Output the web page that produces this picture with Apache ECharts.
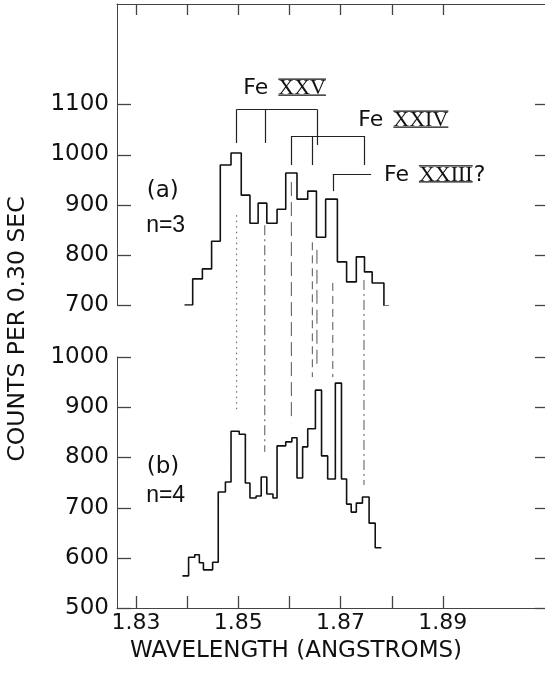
<!DOCTYPE html>
<html>
<head>
<meta charset="utf-8">
<script src="https://cdn.jsdelivr.net/npm/echarts@6/dist/echarts.min.js"></script>
<style>
  html, body { margin: 0; padding: 0; background: #fff; }
  #chart { width: 545px; height: 676px; }
</style>
</head>
<body>
<div id="chart"></div>
<script>
// (a) n=3 spectrum: bin edges in angstroms and counts per bin
const edgesA = [1.8395, 1.8411, 1.8430, 1.8448, 1.8465, 1.8486, 1.8506, 1.8523, 1.8539, 1.8556, 1.8576, 1.8593,
                1.8615, 1.8636, 1.8653, 1.8671, 1.8694, 1.8712, 1.8731, 1.8747, 1.8762, 1.8785, 1.8795];
const countsA = [700, 752, 772, 827, 979, 1003, 919, 863, 903, 863, 891, 963, 911, 927, 835, 911, 786, 746, 796,
                 766, 744, 698];

// (b) n=4 spectrum
const edgesB = [1.8391, 1.8403, 1.8415, 1.8424, 1.8432, 1.8450, 1.8461, 1.8475, 1.8486, 1.8502, 1.8514, 1.8523,
                1.8535, 1.8545, 1.8556, 1.8568, 1.8576, 1.8593, 1.8605, 1.8615, 1.8626, 1.8636, 1.8651, 1.8663,
                1.8675, 1.8690, 1.8702, 1.8712, 1.8721, 1.8731, 1.8743, 1.8756, 1.8768, 1.8780];
const countsB = [564, 601, 606, 590, 576, 591, 731, 751, 852, 846, 749, 719, 723, 761, 727, 719, 823, 831, 839, 759,
                 821, 857, 934, 803, 757, 948, 757, 707, 691, 709, 721, 669, 620];

// axis ticks and labels
const xTicks = [1.83, 1.84, 1.85, 1.86, 1.87, 1.88, 1.89];
const xLabels = [1.83, 1.85, 1.87, 1.89];
const yTicksA = [700, 800, 900, 1000, 1100];
const yTicksB = [500, 600, 700, 800, 900, 1000];

// line positions joining the two spectra: wavelength, start in (a), end in (b)
const lineWl   = [1.8497, 1.8552, 1.8604, 1.8645, 1.8654, 1.8685, 1.8746];
const lineTopA = [879, 859, 945, 825, 810, 744, 750];
const lineBotB = [890, 811, 870, 960, 980, 960, 745];

// ion identification brackets (drawn in the (a) panel)
const ions        = ['XXV', 'XXIV', 'XXIII'];
const ionSuffix   = ['', '', '?'];
const bracketLegs = [[1.8497, 1.8552, 1.8654], [1.8604, 1.8645, 1.8746], [1.8685]];
const bracketEnds = [[1.8497, 1.8654], [1.8604, 1.8746], [1.8685, 1.8760]];
const bracketTop  = [1090, 1037, 961];
const bracketFoot = [[1023, 1023, 1019], [979, 979, 979], [927]];
const ionLabelAt  = [[1.8510, 1132], [1.8735, 1068], [1.8785, 959]];

// panel tags: text, panel, wavelength, count, font
const panelTags = [
  ['(a)', 0, 1.8321, 927, '23px "DejaVu Sans", sans-serif'],
  ['n=3', 0, 1.8320, 859, '23px "Liberation Sans", Arial, sans-serif'],
  ['(b)', 1, 1.8321, 781, '23px "DejaVu Sans", sans-serif'],
  ['n=4', 1, 1.8320, 723, '23px "Liberation Sans", Arial, sans-serif']
];

const X_MIN = 1.8263, X_MAX = 1.91;
const INK = '#111';
const AXIS = '#444';
const SANS = '"DejaVu Sans", sans-serif';

function stepPoints(edges, counts) {
  const pts = [];
  for (let i = 0; i < counts.length; i++) {
    pts.push([edges[i], counts[i]]);
    pts.push([edges[i + 1], counts[i]]);
  }
  return pts;
}

// bracket segments as markLine coordinate pairs
const bracketLines = [];
bracketEnds.forEach((ends, k) => {
  const top = bracketTop[k];
  bracketLines.push([{ coord: [ends[0], top] }, { coord: [ends[1], top] }]);
  bracketLegs[k].forEach((wl, j) => {
    bracketLines.push([{ coord: [wl, top] }, { coord: [wl, bracketFoot[k][j]] }]);
  });
});

const chart = echarts.init(document.getElementById('chart'), null, { renderer: 'canvas' });

function xAxisBase(grid, pos) {
  return {
    type: 'value', gridIndex: grid, position: pos, min: X_MIN, max: X_MAX,
    axisLine: { show: true, onZero: false, lineStyle: { color: AXIS, width: 1 } },
    axisTick: { show: false },
    splitLine: { show: false },
    axisLabel: { show: false }
  };
}

function yAxisBase(grid, pos, min, max, ticks, labelled) {
  return {
    type: 'value', gridIndex: grid, position: pos, min: min, max: max,
    axisLine: { show: pos === 'left', onZero: false, lineStyle: { color: AXIS, width: 1 } },
    axisTick: { show: false },
    splitLine: { show: false },
    axisLabel: labelled ? { show: true, customValues: ticks, fontFamily: SANS, fontSize: 23, color: INK, margin: 8,
                            formatter: v => String(v) }
                        : { show: false }
  };
}

const xBottom = xAxisBase(1, 'bottom');
xBottom.axisLabel = {
  show: true, customValues: xLabels, fontFamily: SANS, fontSize: 22, color: INK, margin: 4,
  formatter: v => v.toFixed(2)
};

const option = {
  animation: false,
  backgroundColor: '#fff',
  grid: [
    { left: 117, top: 4, width: 431, height: 301 },
    { left: 117, top: 357, width: 431, height: 251 }
  ],
  xAxis: [xAxisBase(0, 'top'), xBottom],
  yAxis: [
    yAxisBase(0, 'left', 700, 1300, yTicksA, true),
    yAxisBase(0, 'right', 700, 1300, yTicksA, false),
    yAxisBase(1, 'left', 500, 1000, yTicksB, true),
    yAxisBase(1, 'right', 500, 1000, yTicksB, false)
  ],
  series: [
    {
      name: 'n=3', type: 'line', xAxisIndex: 0, yAxisIndex: 0,
      data: stepPoints(edgesA, countsA), showSymbol: false, silent: true,
      lineStyle: { color: INK, width: 1.6 },
      markLine: {
        silent: true, symbol: 'none', label: { show: false },
        lineStyle: { color: '#222', width: 1.2, type: 'solid' },
        data: bracketLines
      }
    },
    {
      name: 'n=4', type: 'line', xAxisIndex: 1, yAxisIndex: 2,
      data: stepPoints(edgesB, countsB), showSymbol: false, silent: true,
      lineStyle: { color: INK, width: 1.6 }
    }
  ]
};

chart.setOption(option);

const panelA = { xAxisIndex: 0, yAxisIndex: 0 };
const panelB = { xAxisIndex: 1, yAxisIndex: 2 };
const graphics = [];

function seg(x1, y1, x2, y2, stroke, width, dash) {
  const el = {
    type: 'line', silent: true, z: 100,
    shape: { x1: x1, y1: y1, x2: x2, y2: y2 },
    style: { stroke: stroke, lineWidth: width }
  };
  if (dash) el.style.lineDash = dash;
  graphics.push(el);
}

// inward tick marks on all four sides of each panel
function yTicks(panel, values) {
  values.forEach(v => {
    const l = chart.convertToPixel(panel, [X_MIN, v]);
    const r = chart.convertToPixel(panel, [X_MAX, v]);
    const y = Math.round(l[1]) + 0.5;
    seg(l[0], y, l[0] + 14, y, AXIS, 1.3);
    seg(r[0] - 10, y, r[0], y, AXIS, 1.3);
  });
}
yTicks(panelA, yTicksA);
yTicks(panelB, yTicksB);
xTicks.forEach(x => {
  const t = chart.convertToPixel(panelA, [x, 1300]);
  const b = chart.convertToPixel(panelB, [x, 500]);
  const tx = Math.round(t[0]) + 0.5;
  seg(tx, t[1], tx, t[1] + 11, AXIS, 1.3);
  seg(tx, b[1], tx, b[1] - 12, AXIS, 1.3);
});

// dashed identification lines running from (a) down into (b)
const dashes = [[1.5, 4], [10, 4, 2, 4], [14, 6], [8, 5], [14, 6], [8, 5], [10, 4, 2, 4]];
lineWl.forEach((wl, i) => {
  const p1 = chart.convertToPixel(panelA, [wl, lineTopA[i]]);
  const p2 = chart.convertToPixel(panelB, [wl, lineBotB[i]]);
  seg(p1[0], p1[1], p2[0], p2[1], '#555', 1, dashes[i]);
});

// ion labels: "Fe" followed by a barred Roman numeral
const measureCtx = document.createElement('canvas').getContext('2d');
function measure(text, font) {
  measureCtx.font = font;
  measureCtx.textBaseline = 'middle';
  return measureCtx.measureText(text);
}
const feFont = '22px ' + SANS;
const romanFont = '22px "Liberation Serif", "DejaVu Serif", serif';
ions.forEach((ion, k) => {
  const p = chart.convertToPixel(panelA, ionLabelAt[k]);
  const feW = measure('Fe', feFont).width;
  graphics.push({
    type: 'text', silent: true, x: p[0], y: p[1],
    style: { text: 'Fe', font: feFont, fill: INK, align: 'left', verticalAlign: 'middle' }
  });
  const rx = p[0] + feW + 10;
  const m = measure(ion, romanFont);
  graphics.push({
    type: 'text', silent: true, x: rx, y: p[1],
    style: { text: ion, font: romanFont, fill: INK, align: 'left', verticalAlign: 'middle' }
  });
  const yTop = p[1] - m.actualBoundingBoxAscent - 1;
  const yBot = p[1] + m.actualBoundingBoxDescent + 1;
  seg(rx, yTop, rx + m.width, yTop, INK, 1.3);
  seg(rx, yBot, rx + m.width, yBot, INK, 1.3);
  if (ionSuffix[k]) {
    graphics.push({
      type: 'text', silent: true, x: rx + m.width + 1, y: p[1],
      style: { text: ionSuffix[k], font: feFont, fill: INK, align: 'left', verticalAlign: 'middle' }
    });
  }
});

panelTags.forEach(([txt, panel, wl, v, font]) => {
  const p = chart.convertToPixel(panel === 0 ? panelA : panelB, [wl, v]);
  graphics.push({
    type: 'text', silent: true, x: p[0], y: p[1],
    style: { text: txt, font: font, fill: INK, align: 'left', verticalAlign: 'middle' }
  });
});

// axis titles
graphics.push({
  type: 'text', silent: true, x: 296, y: 651,
  style: { text: 'WAVELENGTH (ANGSTROMS)', font: '23px ' + SANS, fill: INK, align: 'center', verticalAlign: 'middle' }
});
graphics.push({
  type: 'text', silent: true, x: 18, y: 329, rotation: Math.PI / 2,
  style: { text: 'COUNTS PER 0.30 SEC', font: '23.5px ' + SANS, fill: INK, align: 'center', verticalAlign: 'middle' }
});

chart.setOption({ graphic: graphics });
</script>
</body>
</html>
